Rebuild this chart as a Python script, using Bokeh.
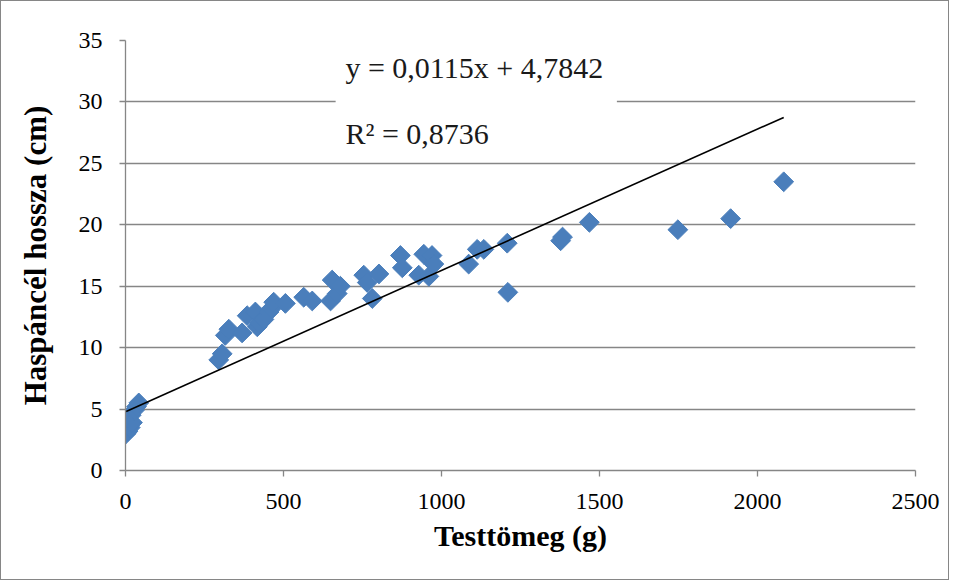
import numpy as np
from bokeh.plotting import figure
from bokeh.models import Range1d, BoxAnnotation, Label, FixedTicker, ColumnDataSource
from bokeh.embed import file_html
from bokeh.resources import INLINE

# ---- data ----
mass_g = [2, 5, 8, 10, 15, 18, 22, 28, 35, 42,
          295, 306, 316, 327, 369, 385, 411, 417, 425, 438, 454, 462, 469, 506,
          564, 591, 649, 654, 670, 680, 754, 765, 781, 802,
          870, 876, 928, 944, 960, 970, 976,
          1086, 1113, 1134, 1208, 1210, 1377, 1383, 1468, 1748, 1915, 2083]
length_cm = [3.0, 3.4, 3.2, 3.7, 3.5, 4.5, 3.9, 4.9, 5.2, 5.5,
             9.0, 9.5, 11.0, 11.5, 11.2, 12.6, 12.9, 11.7, 12.0, 12.3, 12.9, 13.2, 13.7, 13.6,
             14.1, 13.8, 13.8, 15.5, 14.4, 15.0, 15.9, 15.3, 14.0, 16.0,
             17.5, 16.5, 15.9, 17.6, 15.8, 17.5, 16.8,
             16.8, 18.0, 18.0, 18.5, 14.5, 18.7, 19.0, 20.2, 19.6, 20.5, 23.5]
slope = 0.0115
intercept = 4.7842
eq_text = "y = 0,0115x + 4,7842"
r2_text = "R\u00b2 = 0,8736"
x_ticks = [0, 500, 1000, 1500, 2000, 2500]
y_ticks = [0, 5, 10, 15, 20, 25, 30, 35]
x_title = "Testtömeg (g)"
y_title = "Haspáncél hossza (cm)"

SERIF = "Liberation Serif"
GRID = "#868686"
BLUE = "#4A7EBB"

p = figure(width=949, height=580, x_range=Range1d(0, 2500), y_range=Range1d(0, 35),
           output_backend="svg", toolbar_location=None,
           min_border_left=124, min_border_right=35, min_border_top=39, min_border_bottom=111)
p.styles = {"border": "1px solid #868686"}
p.outline_line_color = None
p.background_fill_color = "white"
p.border_fill_color = "white"

p.xgrid.grid_line_color = None
p.ygrid.grid_line_color = GRID
p.ygrid.grid_line_width = 1.3
p.ygrid.ticker = FixedTicker(ticks=y_ticks)

for ax, ticks in ((p.xaxis[0], x_ticks), (p.yaxis[0], y_ticks)):
    ax.ticker = FixedTicker(ticks=ticks)
    ax.axis_line_color = GRID
    ax.axis_line_width = 1.3
    ax.major_tick_line_color = GRID
    ax.major_tick_line_width = 1.3
    ax.major_tick_out = 6
    ax.major_tick_in = 0
    ax.minor_tick_line_color = None
    ax.major_label_text_font = SERIF
    ax.major_label_text_font_size = "24px"
    ax.major_label_text_color = "black"
    ax.axis_label_text_font = SERIF
    ax.axis_label_text_font_style = "bold"
    ax.axis_label_text_color = "black"

p.xaxis.axis_label = x_title
p.yaxis.axis_label = y_title
p.xaxis.axis_label_text_font_size = "30px"
p.yaxis.axis_label_text_font_size = "31px"
p.yaxis.major_label_standoff = 17
p.xaxis.major_label_standoff = 17
p.yaxis.axis_label_standoff = 23
p.xaxis.axis_label_standoff = 7

src = ColumnDataSource(data=dict(x=mass_g, y=length_cm))
p.scatter("x", "y", source=src, marker="square", angle=45, angle_units="deg",
          size=14, fill_color=BLUE, line_color=BLUE)

xmin, xmax = min(mass_g), max(mass_g)
p.line([xmin, xmax], [slope * xmin + intercept, slope * xmax + intercept],
       line_color="black", line_width=1.6)

# white box behind the trendline label
p.add_layout(BoxAnnotation(left=665, right=1555, bottom=25.35, top=34.6,
                           fill_color="white", fill_alpha=1.0, line_color=None, level="underlay"))
p.add_layout(Label(x=696, y=32.8, text=eq_text, text_font=SERIF, text_font_size="30px",
                   text_color="#1a1a1a", text_baseline="alphabetic"))
p.add_layout(Label(x=696, y=27.45, text=r2_text, text_font=SERIF, text_font_size="30px",
                   text_color="#1a1a1a", text_baseline="alphabetic"))

open("out.html", "w").write(file_html(p, INLINE))
